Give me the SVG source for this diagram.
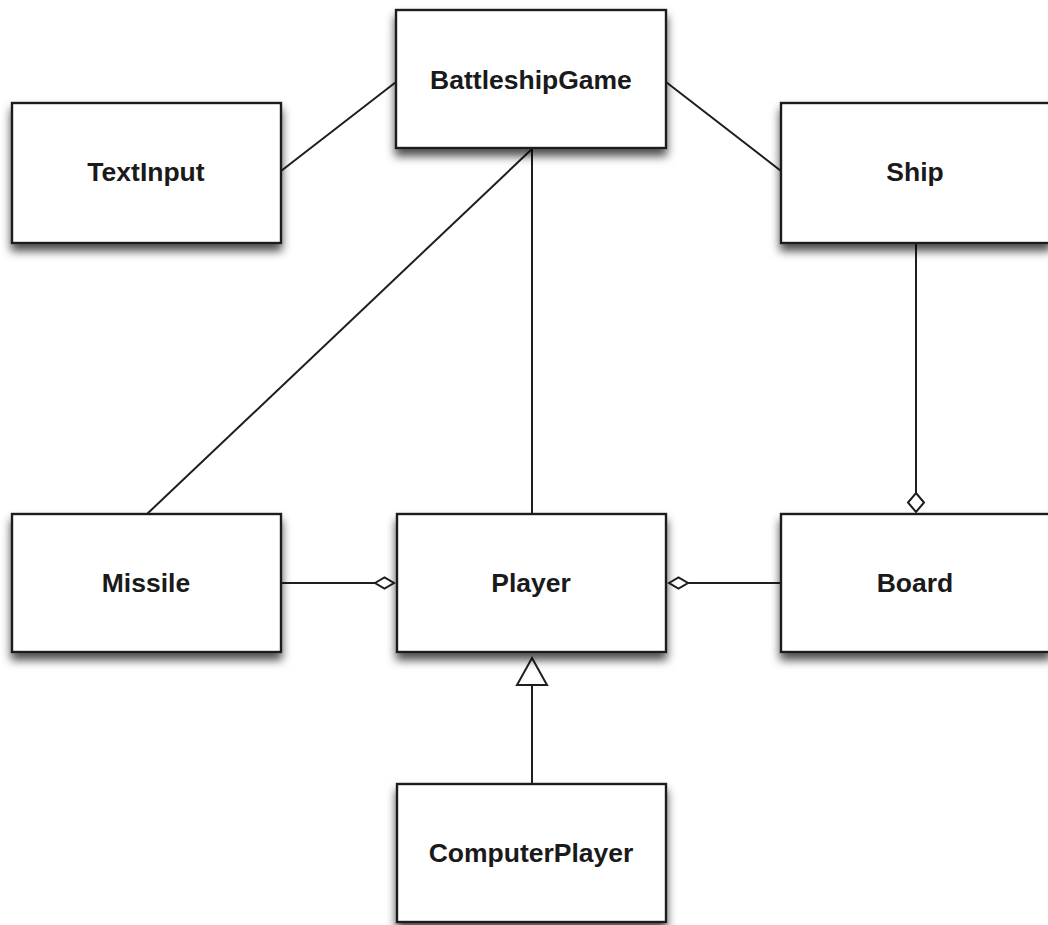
<svg xmlns="http://www.w3.org/2000/svg" width="1048" height="925" viewBox="0 0 1048 925">
  <style>
    .box { fill: #ffffff; stroke: #1e1e1e; stroke-width: 2.4; filter: url(#shadow); }
    .label { font-family: "Liberation Sans", Arial, Helvetica, sans-serif; font-weight: bold; font-size: 26.5px; fill: #1a1a1a; text-anchor: middle; }
    .edge { fill: none; stroke: #1e1e1e; stroke-width: 2; }
    .head { fill: #ffffff; stroke: #1e1e1e; stroke-width: 2; }
  </style>
  <defs>
    <filter id="shadow" x="-10%" y="-10%" width="125%" height="140%">
      <feDropShadow dx="0" dy="7" stdDeviation="5" flood-color="#000000" flood-opacity="0.7"/>
    </filter>
  </defs>
  <rect width="1048" height="925" fill="#ffffff"/>

  <!-- associations, aggregations and generalization -->
  <g id="connectors">
    <line class="edge" x1="281" y1="171" x2="396" y2="82"/>
    <line class="edge" x1="666" y1="82" x2="781" y2="171"/>
    <line class="edge" x1="147" y1="514" x2="533" y2="148"/>
    <line class="edge" x1="532" y1="148" x2="532" y2="514"/>
    <!-- Ship to Board, aggregation diamond at Board -->
    <line class="edge" x1="916" y1="243" x2="916" y2="493"/>
    <polygon class="head" points="916,493 924,502.5 916,512 908,502.5"/>
    <!-- Missile to Player, aggregation diamond at Player -->
    <line class="edge" x1="281" y1="583" x2="375" y2="583"/>
    <polygon class="head" points="375,583 384.5,577.5 394,583 384.5,588.5"/>
    <!-- Board to Player, aggregation diamond at Player -->
    <line class="edge" x1="688" y1="583" x2="781" y2="583"/>
    <polygon class="head" points="669,583 678.5,577.5 688,583 678.5,588.5"/>
    <!-- ComputerPlayer generalizes Player -->
    <line class="edge" x1="532" y1="685" x2="532" y2="784"/>
    <polygon class="head" points="532,658 547,685 517,685"/>
  </g>

  <g id="BattleshipGame">
    <rect class="box" x="396" y="10" width="270" height="138"/>
    <text class="label" x="531" y="89">BattleshipGame</text>
  </g>
  <g id="TextInput">
    <rect class="box" x="12" y="103" width="269" height="140"/>
    <text class="label" x="146" y="181">TextInput</text>
  </g>
  <g id="Ship">
    <rect class="box" x="781" y="103" width="269" height="140"/>
    <text class="label" x="915" y="181">Ship</text>
  </g>
  <g id="Missile">
    <rect class="box" x="12" y="514" width="269" height="138"/>
    <text class="label" x="146" y="592">Missile</text>
  </g>
  <g id="Player">
    <rect class="box" x="397" y="514" width="269" height="138"/>
    <text class="label" x="531" y="592">Player</text>
  </g>
  <g id="Board">
    <rect class="box" x="781" y="514" width="269" height="138"/>
    <text class="label" x="915" y="592">Board</text>
  </g>
  <g id="ComputerPlayer">
    <rect class="box" x="397" y="784" width="269" height="138"/>
    <text class="label" x="531" y="862">ComputerPlayer</text>
  </g>
</svg>
